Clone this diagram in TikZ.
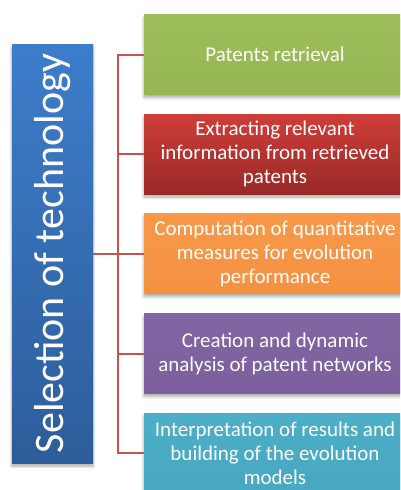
\documentclass[tikz,border=0pt]{standalone}
\usepackage{fontspec}
\setmainfont{Carlito}
\usetikzlibrary{shadows.blur}
\definecolor{bluetop}{RGB}{61,125,203}
\definecolor{bluebot}{RGB}{45,93,154}
\definecolor{greentop}{RGB}{158,190,92}
\definecolor{greenbot}{RGB}{150,182,84}
\definecolor{redtop}{RGB}{207,61,57}
\definecolor{redbot}{RGB}{153,41,39}
\definecolor{orangetop}{RGB}{248,152,72}
\definecolor{orangebot}{RGB}{244,146,66}
\definecolor{purpletop}{RGB}{130,102,164}
\definecolor{purplebot}{RGB}{124,96,158}
\definecolor{tealtop}{RGB}{77,174,200}
\definecolor{tealbot}{RGB}{72,168,194}
\definecolor{linkred}{RGB}{200,82,80}
\tikzset{
  box/.style={rectangle, inner sep=0pt, minimum width=262pt, minimum height=80pt,
    text=white, align=center, font=\fontsize{21}{24}\selectfont,
    blur shadow={shadow xshift=0pt, shadow yshift=-3pt, shadow blur steps=6, shadow blur radius=3pt, shadow opacity=35}},
  link/.style={draw=linkred, line width=2pt},
}
\begin{document}
\begin{tikzpicture}[x=1pt,y=-1pt]
\useasboundingbox (0,0) rectangle (400,490);
\clip (0,0) rectangle (400,490);
\node[box, minimum width=81pt, minimum height=419pt, top color=bluetop, bottom color=bluebot,
      font=\fontsize{42}{48}\selectfont] (sel) at (52.5,253.5) {\rotatebox{90}{Selection of technology}};
\node[box, top color=greentop, bottom color=greenbot] (b1) at (275,54.5) {Patents retrieval};
\node[box, top color=redtop, bottom color=redbot] (b2) at (275,154) {Extracting relevant\\information from retrieved\\patents};
\node[box, top color=orangetop, bottom color=orangebot] (b3) at (275,253.5) {Computation of quantitative\\measures for evolution\\performance};
\node[box, top color=purpletop, bottom color=purplebot] (b4) at (275,353.5) {Creation and dynamic\\analysis of patent networks};
\node[box, top color=tealtop, bottom color=tealbot] (b5) at (275,453) {Interpretation of results and\\building of the evolution\\models};
\coordinate (sp) at (118,0);
\draw[link] (sel.east) -- (b3.west);
\draw[link] (b1.west) -- (b1.west -| sp) -- (b5.west -| sp) -- (b5.west);
\draw[link] (b2.west) -- (b2.west -| sp);
\draw[link] (b4.west) -- (b4.west -| sp);
\end{tikzpicture}
\end{document}
